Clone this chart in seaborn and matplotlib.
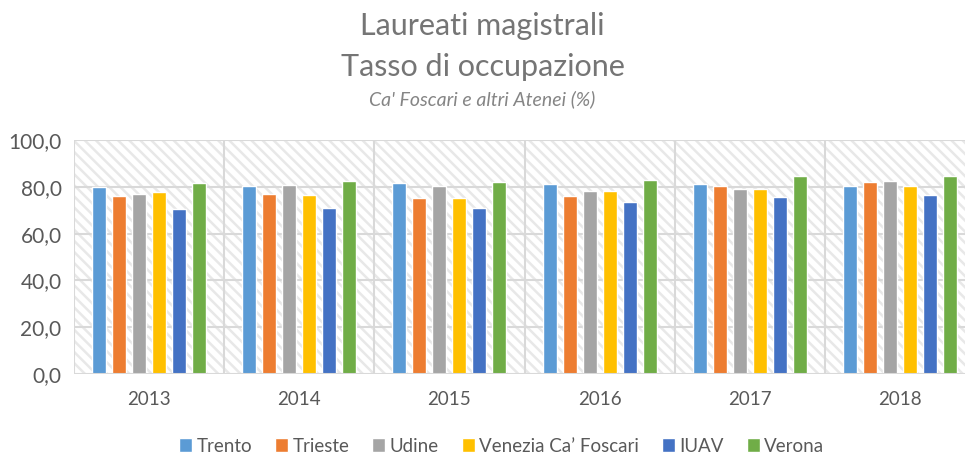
import matplotlib
matplotlib.use("Agg")
import matplotlib.pyplot as plt
from matplotlib.patches import Rectangle
import pandas as pd
import seaborn as sns

# values
years = ["2013", "2014", "2015", "2016", "2017", "2018"]
atenei = ["Trento", "Trieste", "Udine", "Venezia Ca\u2019 Foscari", "IUAV", "Verona"]
trento = [79.9, 80.4, 81.6, 81.0, 81.4, 80.3]
trieste = [76.2, 76.9, 75.2, 76.0, 80.3, 82.0]
udine = [76.8, 80.9, 80.3, 78.2, 78.9, 82.4]
venezia = [77.6, 76.6, 75.1, 78.2, 79.2, 80.3]
iuav = [70.5, 70.9, 70.8, 73.5, 75.5, 76.7]
verona = [81.8, 82.6, 82.0, 82.9, 84.8, 84.6]
colors = ["#5B9BD5", "#ED7D31", "#A5A5A5", "#FFC000", "#4472C4", "#70AD47"]

series = [trento, trieste, udine, venezia, iuav, verona]
rows = []
for name, vals in zip(atenei, series):
    for y, v in zip(years, vals):
        rows.append({"Anno": y, "Ateneo": name, "Tasso": v})
df = pd.DataFrame(rows)

sns.set_style("white")
plt.rcParams["font.family"] = ["Lato", "DejaVu Sans"]
plt.rcParams["hatch.linewidth"] = 1.8

fig = plt.figure(figsize=(9.65, 4.55), dpi=100)
ax = fig.add_axes([74 / 965, 1 - 374 / 455, 901 / 965, 234 / 455])

# hatched plot area background
ax.add_patch(Rectangle((-0.5, 0), 6, 100, facecolor="white", edgecolor="#e8e8e8",
                       hatch="\\\\\\", linewidth=0, zorder=0))

sns.barplot(data=df, x="Anno", y="Tasso", hue="Ateneo", palette=colors, saturation=1,
            width=0.8, gap=0.3, ax=ax, zorder=3, legend=True)

ax.set_xlim(-0.5, 5.5)
ax.set_ylim(0, 100)
ax.set_yticks(range(0, 101, 20))
ax.set_yticklabels([f"{v},0" for v in range(0, 101, 20)])
grid_c = "#d9d9d9"
for v in range(20, 101, 20):
    ax.axhline(v, color=grid_c, lw=1.5, zorder=1)
for b in [i - 0.5 for i in range(7)]:
    ax.axvline(b, color=grid_c, lw=1.5, zorder=1)
ax.axhline(0, color=grid_c, lw=1.5, zorder=4)
for s in ax.spines.values():
    s.set_visible(False)
ax.tick_params(axis="y", length=0, labelsize=15, colors="#595959", pad=9)
ax.tick_params(axis="x", length=0, labelsize=13.5, colors="#595959", pad=12)
ax.set_xlabel("")
ax.set_ylabel("")

handles, labels = ax.get_legend_handles_labels()
ax.get_legend().remove()
fig.legend(handles, labels, loc="center", bbox_to_anchor=(0.52, 1 - 446 / 455),
           ncol=6, frameon=False, fontsize=13.5, handlelength=0.7, handleheight=0.7,
           handletextpad=0.25, columnspacing=1.2, labelcolor="#595959")

fig.text(0.5, 1 - 26 / 455, "Laureati magistrali", ha="center", va="center",
         fontsize=22, color="#757575")
fig.text(0.5, 1 - 67 / 455, "Tasso di occupazione", ha="center", va="center",
         fontsize=22, color="#757575")
fig.text(0.5, 1 - 99 / 455, "Ca' Foscari e altri Atenei (%)", ha="center", va="center",
         fontsize=14, color="#858585", style="italic")

fig.savefig("out.png", dpi=100)
